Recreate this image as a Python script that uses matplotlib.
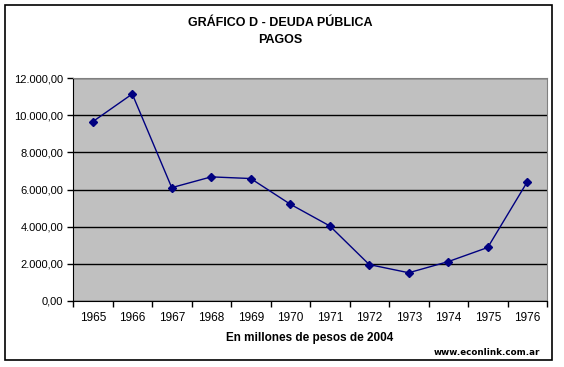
import matplotlib.pyplot as plt
from matplotlib.patches import Rectangle
from matplotlib.ticker import FuncFormatter

# data (millones de pesos de 2004)
years = ["1965", "1966", "1967", "1968", "1969", "1970",
         "1971", "1972", "1973", "1974", "1975", "1976"]
pagos = [9650, 11140, 6100, 6680, 6590, 5210,
         4040, 1960, 1520, 2120, 2880, 6410]
y_ticks = [0, 2000, 4000, 6000, 8000, 10000, 12000]

plt.rcParams['font.family'] = ['Liberation Sans', 'DejaVu Sans']

W, H = 564, 367
fig = plt.figure(figsize=(W / 100, H / 100), dpi=100)
fig.patch.set_facecolor("white")

# outer chart border
fig.patches.append(Rectangle((5 / W, 1 - 360 / H), 547 / W, 355 / H,
                             transform=fig.transFigure, fill=False,
                             edgecolor="black", linewidth=1.2))

# plot area in pixel coords
left, right, top, bottom = 73, 547, 78, 301
ax = fig.add_axes([left / W, 1 - bottom / H, (right - left) / W, (bottom - top) / H])
ax.set_facecolor("#c0c0c0")

x = list(range(len(years)))
ax.plot(x, pagos, color="#000080", linewidth=1, marker="D", markersize=4.5,
        markerfacecolor="#000080", markeredgecolor="#000080", zorder=3)

ax.set_xlim(-0.5, len(years) - 0.5)
ax.set_ylim(0, 12000)
ax.set_yticks(y_ticks)
ax.yaxis.set_major_formatter(FuncFormatter(
    lambda v, p: f"{v:,.2f}".replace(",", "X").replace(".", ",").replace("X", ".")))
ax.yaxis.grid(True, color="black", linewidth=1)
ax.set_axisbelow(True)

# category ticks between the years, labels centred
ax.set_xticks([i - 0.5 for i in range(len(years) + 1)])
ax.set_xticklabels([])
ax.set_xticks(x, minor=True)
ax.set_xticklabels(years, minor=True)
ax.tick_params(axis="x", which="minor", length=0, pad=8, labelsize=8.5)
ax.tick_params(axis="x", which="major", length=4, direction="out", width=1)
ax.tick_params(axis="y", length=4, direction="out", width=1, labelsize=8, pad=3)

for s in ["top", "right"]:
    ax.spines[s].set_color("#808080")
ax.spines["left"].set_color("black")
ax.spines["bottom"].set_color("black")

fig.text(280.5 / W, 1 - 23 / H, "GRÁFICO D - DEUDA PÚBLICA",
         ha="center", va="center", fontsize=9, fontweight="bold")
fig.text(280.5 / W, 1 - 40 / H, "PAGOS",
         ha="center", va="center", fontsize=9, fontweight="bold")
fig.text((left + right) / 2 / W, 1 - 338 / H, "En millones de pesos de 2004",
         ha="center", va="center", fontsize=8.5, fontweight="bold")
fig.text(540 / W, 1 - 352.5 / H, "www.econlink.com.ar",
         ha="right", va="center", fontsize=6.3, fontweight="bold", family="DejaVu Sans")

fig.savefig("out.png", dpi=100)
